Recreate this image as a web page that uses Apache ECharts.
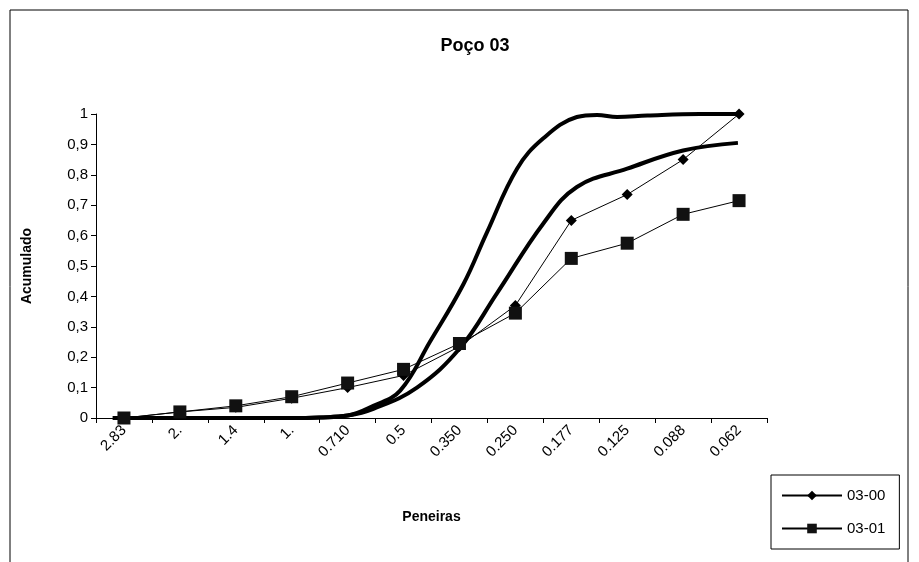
<!DOCTYPE html>
<html>
<head>
<meta charset="utf-8">
<script src="https://cdn.jsdelivr.net/npm/echarts@6/dist/echarts.min.js"></script>
<style>
  html, body { margin: 0; padding: 0; background: #fff; }
  #chart { width: 919px; height: 562px; }
</style>
</head>
<body>
<div id="chart"></div>
<script>
// Data
const peneiras = ['2.83', '2.', '1.4', '1.', '0.710', '0.5', '0.350', '0.250', '0.177', '0.125', '0.088', '0.062'];
const serie0300 = [0, 0.02, 0.035, 0.065, 0.10, 0.14, 0.235, 0.37, 0.65, 0.735, 0.85, 1.0];
const serie0301 = [0, 0.02, 0.04, 0.07, 0.115, 0.16, 0.245, 0.345, 0.525, 0.575, 0.67, 0.715];

// thick trend curves, [category position, value]
const curvaA = [[-0.2, 0], [1, 0], [2, 0], [3, 0], [3.5, 0.002], [4, 0.008], [4.46, 0.04], [4.94, 0.09],
  [5.47, 0.25], [6.07, 0.44], [6.49, 0.61], [7.03, 0.82], [7.5, 0.92], [8.1, 0.99], [8.46, 0.997],
  [8.82, 0.99], [9.36, 0.995], [10.3, 1.0], [11, 1.0]];
const curvaB = [[-0.2, 0], [1, 0], [2, 0], [3, 0], [3.5, 0.002], [4, 0.008], [4.46, 0.03], [5.24, 0.10],
  [6.01, 0.23], [6.67, 0.41], [7.5, 0.64], [8.1, 0.76], [9.0, 0.82], [10.0, 0.88], [10.98, 0.905]];

const chart = echarts.init(document.getElementById('chart'));
const font = 'Liberation Sans, Arial, sans-serif';

chart.setOption({
  animation: false,
  textStyle: { fontFamily: font, color: '#000' },
  title: {
    text: 'Poço 03', left: 470, top: 32, textAlign: 'center',
    textStyle: { fontSize: 18, fontWeight: 'bold', fontFamily: font, color: '#000' }
  },
  graphic: [{
    type: 'rect', shape: { x: 10, y: 10, width: 898, height: 560 },
    style: { fill: 'none', stroke: '#000', lineWidth: 1 }, silent: true
  }],
  grid: { left: 96, right: 152, top: 114, bottom: 144 },
  legend: {
    data: ['03-00', '03-01'], orient: 'vertical', left: 771, top: 475,
    padding: [13, 14, 13, 10], itemGap: 18,
    borderColor: '#000', borderWidth: 1, itemWidth: 60, itemHeight: 12,
    textStyle: { fontSize: 15, fontFamily: font, color: '#000' }
  },
  xAxis: [{
    type: 'category', data: peneiras, boundaryGap: true,
    name: 'Peneiras', nameLocation: 'middle', nameGap: 92,
    nameTextStyle: { fontSize: 14, fontWeight: 'bold', color: '#000' },
    axisLine: { lineStyle: { color: '#000' } },
    axisTick: { show: true, length: 5, lineStyle: { color: '#000' } },
    axisLabel: { rotate: 45, fontSize: 15, color: '#000', margin: 10 }
  }, {
    type: 'value', min: -0.5, max: 11.5, show: false
  }],
  yAxis: {
    type: 'value', min: 0, max: 1, interval: 0.1,
    name: 'Acumulado', nameLocation: 'middle', nameGap: 62,
    nameTextStyle: { fontSize: 14, fontWeight: 'bold', color: '#000' },
    axisLine: { show: true, onZero: false, lineStyle: { color: '#000' } },
    axisTick: { show: true, length: 5, lineStyle: { color: '#000' } },
    splitLine: { show: false },
    axisLabel: { fontSize: 15, color: '#000', formatter: v => String(Math.round(v * 10) / 10).replace('.', ',') }
  },
  series: [{
    name: 'curvaA', type: 'line', xAxisIndex: 1, data: curvaA, smooth: 0.4, showSymbol: false,
    lineStyle: { color: '#000', width: 4 }, z: 1
  }, {
    name: 'curvaB', type: 'line', xAxisIndex: 1, data: curvaB, smooth: 0.4, showSymbol: false,
    lineStyle: { color: '#000', width: 4 }, z: 1
  }, {
    name: '03-00', type: 'line', data: serie0300, symbol: 'diamond', symbolSize: 11,
    lineStyle: { color: '#000', width: 1 }, itemStyle: { color: '#000' }, z: 3
  }, {
    name: '03-01', type: 'line', data: serie0301, symbol: 'rect', symbolSize: 13,
    lineStyle: { color: '#000', width: 1 }, itemStyle: { color: '#111' }, z: 3
  }]
});
</script>
</body>
</html>
